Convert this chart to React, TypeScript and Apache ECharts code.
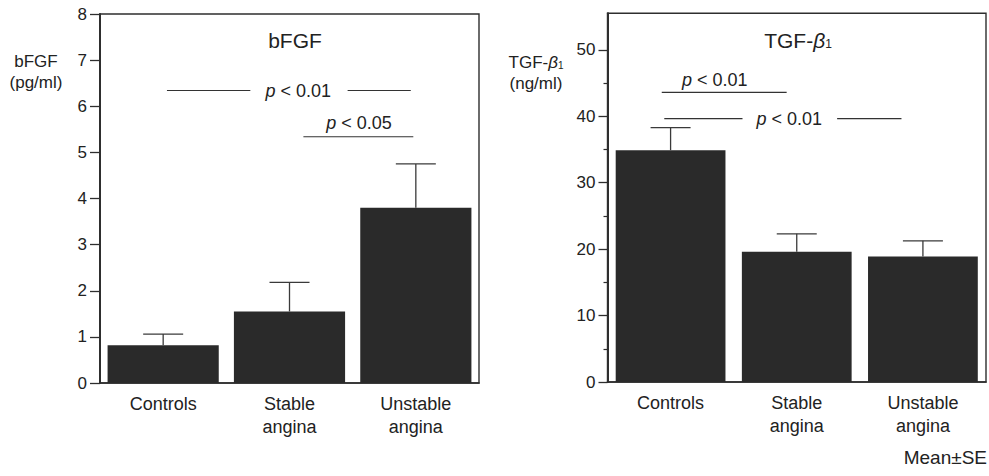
import React, { useEffect, useRef } from "react";
import * as echarts from "echarts";

const categories = ["Controls", "Stable\nangina", "Unstable\nangina"];

const bfgfMean = [0.82, 1.55, 3.8];
const bfgfSE = [0.24, 0.63, 0.95];
const tgfMean = [34.9, 19.6, 18.9];
const tgfSE = [3.4, 2.7, 2.35];

const leftTicks = [0, 1, 2, 3, 4, 5, 6, 7, 8];
const rightTicks = [0, 10, 20, 30, 40, 50];
const rightMinorTicks = [5, 15, 25, 35, 45];

// significance brackets: [xFrom, xTo, y] in category units (0 = first category centre)
const leftSegments = [
  [0.03, 0.69, 6.34],
  [1.46, 1.96, 6.34],
  [1.11, 1.98, 5.34],
];
const leftPLabels = [
  [1.07, 6.32, "0.01"],
  [1.55, 5.64, "0.05"],
];
const rightSegments = [
  [-0.07, 0.92, 43.6],
  [-0.05, 0.57, 39.65],
  [1.32, 1.83, 39.65],
];
const rightPLabels = [
  [0.35, 45.5, "0.01"],
  [0.94, 39.6, "0.01"],
];

const FONT = "'Liberation Sans', Arial, Helvetica, sans-serif";
const TEXT = "#222";
const LINE = "#2e2e2e";
const BAR = "#2a2a2a";

function errorRender(params: any, api: any) {
  const x = api.value(0);
  const lo = api.coord([x, api.value(1)]);
  const hi = api.coord([x, api.value(2)]);
  const half = 20;
  return {
    type: "group",
    children: [
      { type: "line", shape: { x1: lo[0], y1: lo[1], x2: hi[0], y2: hi[1] }, style: { stroke: "#3a3a3a", lineWidth: 1.3 } },
      { type: "line", shape: { x1: hi[0] - half, y1: hi[1], x2: hi[0] + half, y2: hi[1] }, style: { stroke: "#3a3a3a", lineWidth: 1.3 } },
    ],
  };
}

function segRender(params: any, api: any) {
  const a = api.coord([api.value(0), api.value(2)]);
  const b = api.coord([api.value(1), api.value(2)]);
  return { type: "line", shape: { x1: a[0], y1: a[1], x2: b[0], y2: b[1] }, style: { stroke: "#333", lineWidth: 1.1 } };
}

function pRender(params: any, api: any) {
  const p = api.coord([api.value(0), api.value(1)]);
  return {
    type: "text",
    x: p[0],
    y: p[1],
    style: {
      text: "{i|p} < " + api.value(2),
      align: "center",
      verticalAlign: "middle",
      fill: TEXT,
      fontFamily: FONT,
      fontSize: 18,
      rich: {
        i: { fontStyle: "italic", fontFamily: FONT, fontSize: 18, fill: TEXT },
      },
    },
  };
}

export default function App() {
  const ref = useRef<HTMLDivElement>(null);
  useEffect(() => {
    if (!ref.current) return;
    const chart = echarts.init(ref.current, null, { renderer: "svg" });
    const catAxis = (gridIndex: number) => ({
      type: "category",
      gridIndex,
      data: categories,
      axisLine: { show: true, onZero: false, lineStyle: { color: LINE, width: 1.6 } },
      axisTick: { show: false },
      axisLabel: { color: TEXT, fontFamily: FONT, fontSize: 18, lineHeight: 23, margin: 9 },
    });
    const hiddenX = (gridIndex: number) => ({
      type: "value",
      gridIndex,
      min: -0.5,
      max: 2.5,
      show: false,
    });
    const option: any = {
      animation: false,
      grid: [
        { left: 100, top: 14, width: 379, height: 369, show: true, borderColor: LINE, borderWidth: 1.4, backgroundColor: "transparent" },
        { left: 607.5, top: 13.3, width: 378.5, height: 368.7, show: true, borderColor: LINE, borderWidth: 1.4, backgroundColor: "transparent" },
      ],
      xAxis: [catAxis(0), hiddenX(0), catAxis(1), hiddenX(1)],
      yAxis: [
        {
          type: "value",
          gridIndex: 0,
          position: "left",
          min: 0,
          max: 8,
          interval: 1,
          axisLine: { show: true, onZero: false, lineStyle: { color: LINE, width: 2 } },
          axisTick: { show: true, length: 10, lineStyle: { color: LINE, width: 1.3 }, customValues: leftTicks },
          axisLabel: { color: TEXT, fontFamily: FONT, fontSize: 17, margin: 13, customValues: leftTicks },
          splitLine: { show: false },
        },
        {
          type: "value",
          gridIndex: 1,
          position: "left",
          min: 0,
          max: 55.5,
          interval: 10,
          axisLine: { show: true, onZero: false, lineStyle: { color: LINE, width: 2 } },
          axisTick: { show: true, length: 9, lineStyle: { color: LINE, width: 1.3 }, customValues: rightTicks },
          axisLabel: { color: TEXT, fontFamily: FONT, fontSize: 17, margin: 12, customValues: rightTicks },
          splitLine: { show: false },
        },
        {
          type: "value",
          gridIndex: 1,
          position: "left",
          offset: 0,
          min: 0,
          max: 55.5,
          interval: 5,
          axisLine: { show: false, onZero: false },
          axisTick: { show: true, length: 4, lineStyle: { color: LINE, width: 1.2 }, customValues: rightMinorTicks },
          axisLabel: { show: false },
          splitLine: { show: false },
        },
      ],
      series: [
        {
          type: "bar",
          xAxisIndex: 0,
          yAxisIndex: 0,
          data: bfgfMean,
          barWidth: "88%",
          itemStyle: { color: BAR },
        },
        {
          type: "custom",
          xAxisIndex: 0,
          yAxisIndex: 0,
          renderItem: errorRender,
          data: bfgfMean.map((m, i) => [i, m, m + bfgfSE[i]]),
          z: 3,
        },
        {
          type: "bar",
          xAxisIndex: 2,
          yAxisIndex: 1,
          data: tgfMean,
          barWidth: "87%",
          itemStyle: { color: BAR },
        },
        {
          type: "custom",
          xAxisIndex: 2,
          yAxisIndex: 1,
          renderItem: errorRender,
          data: tgfMean.map((m, i) => [i, m, m + tgfSE[i]]),
          z: 3,
        },
        { type: "custom", xAxisIndex: 1, yAxisIndex: 0, renderItem: segRender, data: leftSegments, encode: { x: [0, 1], y: 2 } },
        { type: "custom", xAxisIndex: 1, yAxisIndex: 0, renderItem: pRender, data: leftPLabels, encode: { x: 0, y: 1 } },
        { type: "custom", xAxisIndex: 3, yAxisIndex: 1, renderItem: segRender, data: rightSegments, encode: { x: [0, 1], y: 2 } },
        { type: "custom", xAxisIndex: 3, yAxisIndex: 1, renderItem: pRender, data: rightPLabels, encode: { x: 0, y: 1 } },
      ],
      graphic: [
        {
          type: "text",
          x: 295,
          y: 40,
          style: { text: "bFGF", align: "center", verticalAlign: "middle", fill: TEXT, fontFamily: FONT, fontSize: 21 },
        },
        {
          type: "text",
          x: 36,
          y: 72,
          style: {
            text: "bFGF\n(pg/ml)",
            align: "center",
            verticalAlign: "middle",
            lineHeight: 21,
            fill: TEXT,
            fontFamily: FONT,
            fontSize: 17,
          },
        },
        {
          type: "text",
          x: 798,
          y: 40,
          style: {
            text: "TGF-{b|β}{s|1}",
            align: "center",
            verticalAlign: "middle",
            fill: TEXT,
            fontFamily: FONT,
            fontSize: 21,
            rich: {
              b: { fontStyle: "italic", fontFamily: FONT, fontSize: 21, fill: TEXT },
              s: { fontFamily: FONT, fontSize: 12, fill: TEXT, padding: [8, 0, 0, 0] },
            },
          },
        },
        {
          type: "text",
          x: 536,
          y: 62,
          style: {
            text: "TGF-{b|β}{s|1}",
            align: "center",
            verticalAlign: "middle",
            fill: TEXT,
            fontFamily: FONT,
            fontSize: 17,
            rich: {
              b: { fontStyle: "italic", fontFamily: FONT, fontSize: 17, fill: TEXT },
              s: { fontFamily: FONT, fontSize: 10, fill: TEXT, padding: [6, 0, 0, 0] },
            },
          },
        },
        {
          type: "text",
          x: 536,
          y: 83,
          style: { text: "(ng/ml)", align: "center", verticalAlign: "middle", fill: TEXT, fontFamily: FONT, fontSize: 17 },
        },
        {
          type: "text",
          x: 987,
          y: 457,
          style: { text: "Mean±SE", align: "right", verticalAlign: "middle", fill: TEXT, fontFamily: FONT, fontSize: 19 },
        },
      ],
    };
    chart.setOption(option);
    return () => chart.dispose();
  }, []);
  return (
    <div
      ref={ref}
      style={{ position: "fixed", left: 0, top: 0, width: 989, height: 476, background: "#fff" }}
    />
  );
}
